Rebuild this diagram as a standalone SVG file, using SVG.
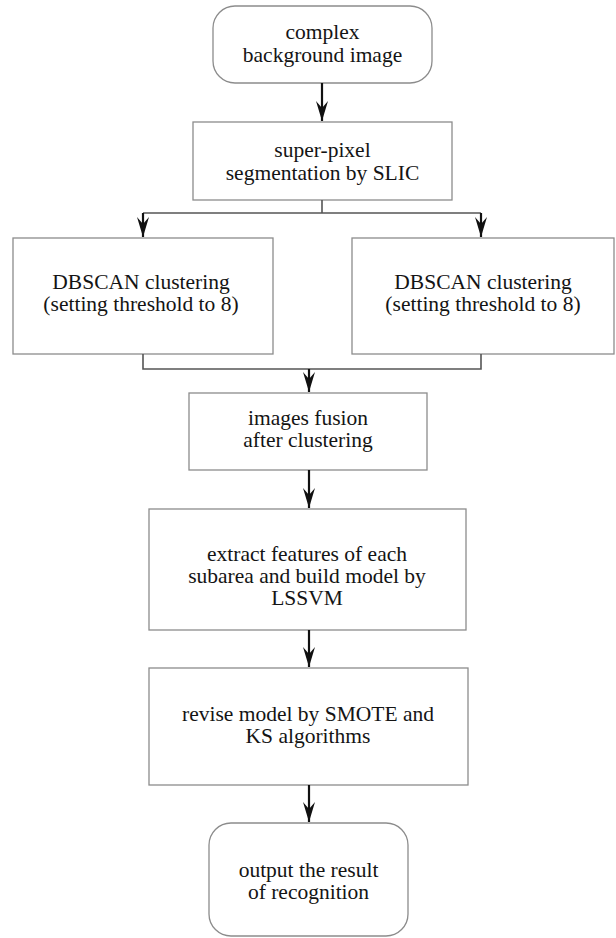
<svg xmlns="http://www.w3.org/2000/svg" width="616" height="938" viewBox="0 0 616 938">
<defs>
<style>
.box{fill:#fff;stroke:#8c8c8c;stroke-width:1.3}
.t{font-family:'Liberation Serif','DejaVu Serif',serif;font-size:21.5px;fill:#141414;text-anchor:middle}
.arr{fill:none;stroke:#111;stroke-width:2.2}
.ln{fill:none;stroke:#555;stroke-width:1.6}
</style>
<marker id="ah" markerUnits="userSpaceOnUse" markerWidth="22" markerHeight="12" viewBox="0 0 22 12" refX="20" refY="6" orient="auto">
<path d="M0,0 L20,6 L0,12 L7,6 Z" fill="#111"/>
</marker>
</defs>
<rect width="616" height="938" fill="#fff"/>
<g id="n1"><rect class="box" x="213" y="6" width="219" height="77" rx="22"/><text class="t" x="322.5" y="39">complex</text><text class="t" x="322.5" y="62">background image</text></g>
<g id="n2"><rect class="box" x="193" y="122" width="259" height="78"/><text class="t" x="322.5" y="157">super-pixel</text><text class="t" x="322.5" y="180">segmentation by SLIC</text></g>
<g id="n3"><rect class="box" x="13" y="238" width="260" height="116"/><text class="t" x="141" y="289">DBSCAN clustering</text><text class="t" x="141" y="311">(setting threshold to 8)</text></g>
<g id="n4"><rect class="box" x="352" y="238" width="262" height="116"/><text class="t" x="483" y="289">DBSCAN clustering</text><text class="t" x="483" y="311">(setting threshold to 8)</text></g>
<g id="n5"><rect class="box" x="189" y="393" width="238" height="77"/><text class="t" x="308" y="425">images fusion</text><text class="t" x="308" y="447">after clustering</text></g>
<g id="n6"><rect class="box" x="149" y="509" width="317" height="121"/><text class="t" x="307" y="561">extract features of each</text><text class="t" x="307" y="583">subarea and build model by</text><text class="t" x="307" y="605">LSSVM</text></g>
<g id="n7"><rect class="box" x="149" y="668" width="319" height="117"/><text class="t" x="308" y="721">revise model by SMOTE and</text><text class="t" x="308" y="743">KS algorithms</text></g>
<g id="n8"><rect class="box" x="209" y="823" width="199" height="113" rx="22"/><text class="t" x="308.5" y="877">output the result</text><text class="t" x="308.5" y="899">of recognition</text></g>
<g id="connectors">
<path class="arr" d="M322,83 V121" marker-end="url(#ah)"/>
<path class="ln" d="M322,200 V213 M143,213 H481"/>
<path class="arr" d="M143,213 V237" marker-end="url(#ah)"/>
<path class="arr" d="M481,213 V237" marker-end="url(#ah)"/>
<path class="ln" d="M143,354 V369 H481 V354"/>
<path class="arr" d="M309,369 V392" marker-end="url(#ah)"/>
<path class="arr" d="M309,470 V508" marker-end="url(#ah)"/>
<path class="arr" d="M309,630 V667" marker-end="url(#ah)"/>
<path class="arr" d="M309,785 V822" marker-end="url(#ah)"/>
</g>
</svg>
